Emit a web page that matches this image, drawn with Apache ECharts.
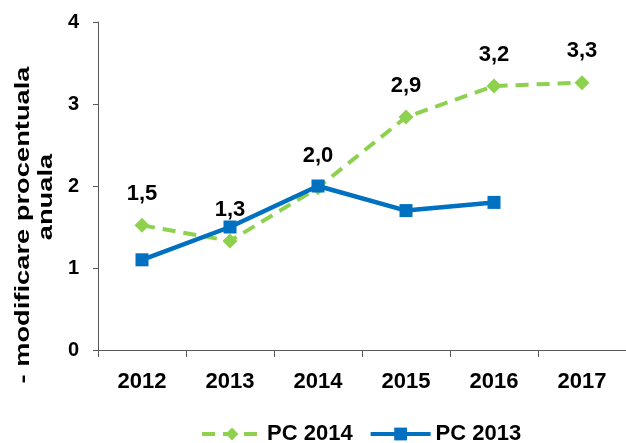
<!DOCTYPE html>
<html>
<head>
<meta charset="utf-8">
<script src="https://cdn.jsdelivr.net/npm/echarts@6/dist/echarts.min.js"></script>
<style>
  html, body { margin: 0; padding: 0; background: #fff; }
  #chart { width: 626px; height: 443px; }
</style>
</head>
<body>
<div id="chart"></div>
<script>
// modificare procentuala anuala, PC 2014 vs PC 2013
const years = ['2012', '2013', '2014', '2015', '2016', '2017']
const pc2014 = [1.52, 1.33, 1.98, 2.84, 3.22, 3.26]
const pc2013 = [1.10, 1.50, 2.00, 1.70, 1.80]
const pc2014Labels = ['1,5', '1,3', '2,0', '2,9', '3,2', '3,3']

const green = '#8ED14F'
const blue = '#0070C0'
const font = 'Liberation Sans, Arial, sans-serif'

const chart = echarts.init(document.getElementById('chart'))
chart.setOption({
  animation: false,
  grid: {
    left: 98,
    right: 0,
    top: 22,
    bottom: 93
  },
  // titlul axei Y, intins pe verticala ca in original
  graphic: [{
    type: 'text',
    x: 23,
    y: 225,
    rotation: Math.PI / 2,
    scaleX: 1.3,
    style: {
      text: '- modificare procentuala',
      font: 'bold 21px ' + font,
      fill: '#000',
      align: 'center',
      verticalAlign: 'middle'
    }
  }, {
    type: 'text',
    x: 46,
    y: 197,
    rotation: Math.PI / 2,
    scaleX: 1.3,
    style: {
      text: 'anuala',
      font: 'bold 21px ' + font,
      fill: '#000',
      align: 'center',
      verticalAlign: 'middle'
    }
  }],
  legend: {
    top: 418,
    left: 195,
    itemWidth: 60,
    itemHeight: 16,
    itemGap: 16,
    textStyle: {
      fontFamily: font,
      fontWeight: 'bold',
      fontSize: 22,
      color: '#000'
    },
    data: [
      { name: 'PC 2014', lineStyle: { width: 4 } },
      { name: 'PC 2013', lineStyle: { width: 4 } }
    ]
  },
  xAxis: {
    type: 'category',
    data: years,
    boundaryGap: true,
    axisLine: { lineStyle: { color: '#595959', width: 1 } },
    axisTick: { show: true, length: 7, lineStyle: { color: '#595959' } },
    axisLabel: {
      margin: 21,
      fontFamily: font,
      fontWeight: 'bold',
      fontSize: 22,
      color: '#000'
    }
  },
  yAxis: {
    type: 'value',
    min: 0,
    max: 4,
    interval: 1,
    splitLine: { show: false },
    axisLine: { show: true, lineStyle: { color: '#595959', width: 1 } },
    axisTick: { show: true, length: 5, lineStyle: { color: '#595959' } },
    axisLabel: {
      margin: 19,
      fontFamily: font,
      fontWeight: 'bold',
      fontSize: 20,
      color: '#000'
    }
  },
  series: [{
    name: 'PC 2014',
    type: 'line',
    data: pc2014,
    symbol: 'diamond',
    symbolSize: 15,
    itemStyle: { color: green },
    lineStyle: { color: green, width: 4, type: [13, 8] },
    label: {
      show: true,
      position: 'top',
      distance: 13,
      fontFamily: font,
      fontWeight: 'bold',
      fontSize: 22,
      color: '#000',
      formatter: p => pc2014Labels[p.dataIndex]
    },
    z: 2
  }, {
    name: 'PC 2013',
    type: 'line',
    data: pc2013,
    symbol: 'rect',
    symbolSize: 13,
    itemStyle: { color: blue },
    lineStyle: { color: blue, width: 4.5 },
    z: 3
  }]
})
</script>
</body>
</html>
